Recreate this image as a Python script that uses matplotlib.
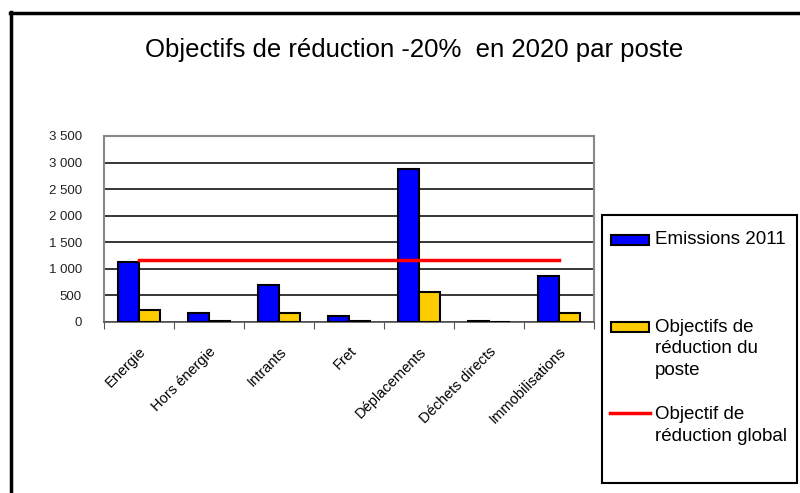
import numpy as np
import matplotlib.pyplot as plt
from matplotlib.patches import Rectangle
from matplotlib.lines import Line2D

plt.rcParams['font.family'] = ['Liberation Sans', 'DejaVu Sans']

postes = ['Energie', 'Hors énergie', 'Intrants', 'Fret', 'Déplacements',
          'Déchets directs', 'Immobilisations']
emissions_2011 = [1130, 160, 700, 115, 2880, 10, 875]
objectifs_poste = [230, 25, 160, 25, 565, 5, 175]
objectif_global = [1175] * len(postes)

fig = plt.figure(figsize=(8.0, 4.93), dpi=100)
ax = fig.add_axes([104 / 800, 1 - 322 / 493, 490 / 800, 186 / 493])

x = np.arange(len(postes))
w = 0.3
ax.bar(x - w / 2, emissions_2011, w, color='#0000ff', edgecolor='black',
       linewidth=1.5, zorder=3)
ax.bar(x + w / 2, objectifs_poste, w, color='#ffcc00', edgecolor='black',
       linewidth=1.5, zorder=3)
ax.plot(x, objectif_global, color='#ff0000', linewidth=2.5, zorder=4)

ax.set_xlim(-0.5, len(postes) - 0.5)
ax.set_ylim(0, 3500)
ax.set_yticks(np.arange(0, 3501, 500))
ax.set_yticklabels(['0', '500', '1 000', '1 500', '2 000', '2 500', '3 000', '3 500'],
                   fontsize=9.5, color='#222222')
ax.tick_params(axis='y', length=0, pad=16)
ax.yaxis.grid(True, color='black', linewidth=1.1, zorder=1)
ax.set_axisbelow(True)

# ticks on category boundaries, labels on centres
ax.set_xticks(np.arange(len(postes) + 1) - 0.5)
ax.set_xticklabels([])
ax.set_xticks(x, minor=True)
ax.set_xticklabels(postes, minor=True, rotation=45, ha='right',
                   rotation_mode='anchor', fontsize=10.5)
ax.tick_params(axis='x', which='major', length=5, color='#555555')
ax.tick_params(axis='x', which='minor', length=0, pad=16)

for side in ['top', 'right', 'left']:
    ax.spines[side].set_color('#888888')
    ax.spines[side].set_linewidth(1.5)
ax.spines['bottom'].set_color('#555555')
ax.spines['bottom'].set_linewidth(1.2)

fig.text(414 / 800, 1 - 50 / 493, 'Objectifs de réduction -20%  en 2020 par poste',
         ha='center', va='center', fontsize=18.5)

# outer chart frame (left and top only visible)
fig.add_artist(Line2D([11 / 800, 11 / 800], [0, 1 - 12 / 493], color='black',
                      linewidth=2.5, transform=fig.transFigure))
fig.add_artist(Line2D([10 / 800, 1], [1 - 12.5 / 493, 1 - 12.5 / 493], color='black',
                      linewidth=2.5, transform=fig.transFigure))

# legend box
def fx(px):
    return px / 800

def fy(py):
    return 1 - py / 493

fig.add_artist(Rectangle((fx(602), fy(483)), fx(797) - fx(602), fy(215) - fy(483),
                         facecolor='white', edgecolor='black', linewidth=1.5,
                         transform=fig.transFigure))
fig.add_artist(Rectangle((fx(611), fy(245)), fx(38), 10 / 493, facecolor='#0000ff',
                         edgecolor='black', linewidth=1.5, transform=fig.transFigure))
fig.add_artist(Rectangle((fx(611), fy(332)), fx(38), 10 / 493, facecolor='#ffcc00',
                         edgecolor='black', linewidth=1.5, transform=fig.transFigure))
fig.add_artist(Line2D([fx(610), fx(650)], [fy(413), fy(413)], color='#ff0000',
                      linewidth=2.5, transform=fig.transFigure))
fig.text(fx(655), fy(240), 'Emissions 2011', fontsize=13.5, va='center')
fig.text(fx(655), fy(319), 'Objectifs de\nréduction du\nposte', fontsize=13.5,
         va='top', linespacing=1.33)
fig.text(fx(655), fy(406), 'Objectif de\nréduction global', fontsize=13.5,
         va='top', linespacing=1.4)

fig.savefig('out.png', dpi=100)
